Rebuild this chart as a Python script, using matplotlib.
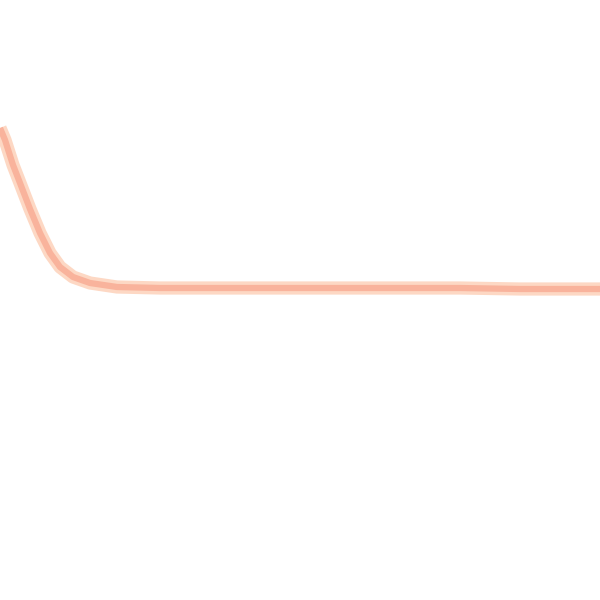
import matplotlib
matplotlib.use("Agg")
import matplotlib.pyplot as plt

# values (x position, level)
x_vals = [0, 5, 13, 20, 30, 40, 50, 60, 73, 90, 117, 160, 250, 350, 460, 520, 600]
y_vals = [128, 140, 165, 183, 209, 233, 253, 267, 277, 283, 287, 288, 288, 288, 288, 289, 289]

fig = plt.figure(figsize=(6, 6), dpi=100)
ax = fig.add_axes([0, 0, 1, 1])
ax.plot(x_vals, y_vals, color="#fdd8c4", linewidth=9.5, solid_capstyle="butt", solid_joinstyle="round")
ax.plot(x_vals, y_vals, color="#f9b39c", linewidth=4.5, solid_capstyle="butt", solid_joinstyle="round")
ax.set_xlim(0, 600)
ax.set_ylim(600, 0)
ax.axis("off")
fig.savefig("out.png", dpi=100, facecolor="white")
